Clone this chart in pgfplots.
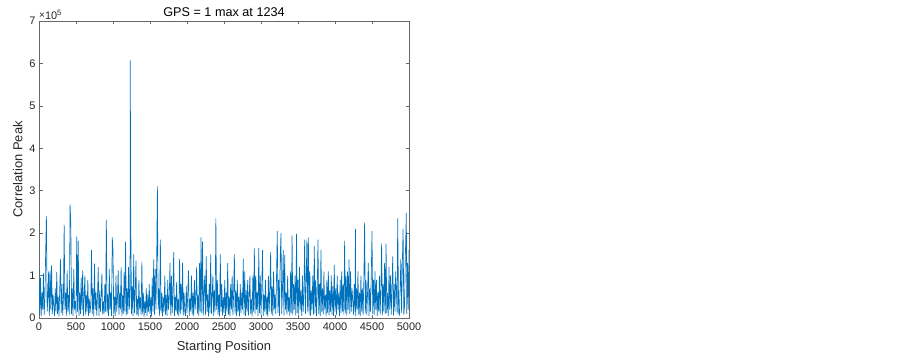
\documentclass[border=0pt]{standalone}
\usepackage{pgfplots}
\pgfplotsset{compat=1.18}
\usepackage{fontspec}
\setmainfont{Liberation Sans}
\definecolor{mblue}{RGB}{0,114,189}
\definecolor{axgray}{RGB}{38,38,38}
\begin{document}
\begin{tikzpicture}[x=1bp,y=1bp]
\useasboundingbox (0,0) rectangle (903,358);
\begin{axis}[
  at={(39bp,40bp)}, anchor=south west,
  scale only axis, width=370bp, height=297bp,
  xmin=0, xmax=5000, ymin=0, ymax=7,
  xtick={0,500,...,5000}, ytick={0,1,...,7},
  tick align=inside, tick pos=both,
  major tick length=3.5bp,
  axis line style={axgray!70, line width=0.5pt},
  every tick/.style={axgray!70, line width=0.5pt},
  tick label style={font=\fontsize{11}{13}\selectfont, text=axgray},
  /pgf/number format/assume math mode=true,
  /pgf/number format/1000 sep={},
  xticklabel style={yshift=-1bp},
  title={GPS = 1 max at 1234},
  title style={font=\fontsize{12.7}{15}\selectfont, yshift=-5bp},
  xlabel={Starting Position},
  ylabel={Correlation Peak},
  label style={font=\fontsize{13}{15}\selectfont, text=axgray},
  xlabel style={yshift=-4bp},
  ylabel style={yshift=0bp},
  clip mode=individual,
]
\addplot[mblue, line width=0.65pt] coordinates {
(0,1.15)(10,0.1)(20,0.95)(30,0.05)(40,0.6)(50,0.2)(60,1.05)(70,0.08)(80,0.5)(90,1.55)
(100,2.4)(110,0.15)(120,0.45)(130,1.1)(140,0.05)(150,1.12)(160,0.2)(170,1.24)(180,0.1)(190,0.55)
(200,0.3)(210,0.05)(220,0.7)(230,0.15)(240,1.08)(250,0.1)(260,0.5)(270,0.04)(280,0.65)(290,1.38)
(300,0.12)(310,0.8)(320,0.06)(330,0.45)(340,2.2)(350,0.2)(360,0.6)(370,0.05)(380,1.12)(390,0.15)
(400,0.55)(410,0.08)(420,2.68)(430,2.2)(440,0.1)(450,0.7)(460,0.05)(470,1.15)(480,0.2)(490,0.4)
(500,0.1)(510,1.92)(520,0.15)(530,1.82)(540,0.05)(550,0.6)(560,0.1)(570,0.95)(580,0.2)(590,1.12)
(600,0.05)(610,0.5)(620,1.0)(630,0.08)(640,0.55)(650,0.15)(660,0.9)(670,0.05)(680,0.45)(690,0.12)
(700,0.35)(710,1.6)(720,0.1)(730,0.7)(740,0.04)(750,1.28)(760,0.2)(770,0.6)(780,0.06)(790,0.5)
(800,1.2)(810,0.05)(820,0.65)(830,0.15)(840,0.5)(850,1.05)(860,0.08)(870,0.4)(880,0.1)(890,0.8)
(900,0.15)(910,2.32)(920,0.12)(930,0.55)(940,0.05)(950,1.15)(960,0.2)(970,0.6)(980,0.05)(990,1.9)
(1000,1.6)(1010,0.1)(1020,0.5)(1030,0.05)(1040,1.0)(1050,0.15)(1060,0.45)(1070,1.12)(1080,0.08)(1090,0.6)
(1100,0.2)(1110,1.2)(1120,0.05)(1130,0.55)(1140,0.1)(1150,1.08)(1160,0.15)(1170,1.8)(1180,0.06)(1190,0.7)
(1200,0.1)(1210,1.2)(1220,0.2)(1230,0.5)(1234,6.07)(1238,2.8)(1250,0.1)(1260,0.75)(1270,0.05)(1280,1.5)
(1290,0.12)(1300,0.55)(1310,1.35)(1320,0.08)(1330,0.45)(1340,0.04)(1350,0.9)(1360,0.2)(1370,0.5)(1380,0.06)
(1390,1.32)(1400,0.1)(1410,0.6)(1420,0.03)(1430,0.4)(1440,0.12)(1450,0.7)(1460,0.05)(1470,0.55)(1480,0.15)
(1490,0.8)(1500,0.1)(1510,0.5)(1520,0.04)(1530,0.95)(1540,0.15)(1550,1.38)(1560,0.08)(1570,1.15)(1580,0.2)
(1590,1.3)(1600,3.1)(1610,0.2)(1620,0.7)(1630,0.05)(1640,1.85)(1650,0.12)(1660,0.6)(1670,0.04)(1680,0.5)
(1690,0.15)(1700,1.0)(1710,0.08)(1720,0.55)(1730,0.05)(1740,0.9)(1750,0.2)(1760,0.45)(1770,1.3)(1780,0.06)
(1790,1.0)(1800,0.12)(1810,0.6)(1820,1.55)(1830,0.05)(1840,0.5)(1850,0.15)(1860,0.85)(1870,0.08)(1880,0.45)
(1890,0.04)(1900,1.4)(1910,0.1)(1920,0.8)(1930,0.2)(1940,1.3)(1950,0.06)(1960,0.6)(1970,0.15)(1980,0.05)
(1990,0.75)(2000,0.12)(2010,0.55)(2020,1.12)(2030,0.05)(2040,0.45)(2050,0.15)(2060,1.0)(2070,0.08)(2080,0.6)
(2090,0.04)(2100,0.9)(2110,0.2)(2120,0.5)(2130,1.2)(2140,0.1)(2150,0.55)(2160,0.05)(2170,1.3)(2180,0.15)
(2190,1.9)(2200,0.12)(2210,1.8)(2220,0.06)(2230,0.6)(2240,1.0)(2250,0.08)(2260,1.45)(2270,0.15)(2280,0.55)
(2290,0.04)(2300,0.8)(2310,0.12)(2320,1.5)(2330,0.1)(2340,0.5)(2350,1.0)(2360,0.05)(2370,0.65)(2380,0.15)
(2390,2.35)(2400,0.2)(2410,0.9)(2420,0.08)(2430,0.55)(2440,0.04)(2450,1.5)(2460,0.15)(2470,0.8)(2480,0.06)
(2490,0.5)(2500,0.12)(2510,0.9)(2520,0.05)(2530,0.6)(2540,0.15)(2550,1.3)(2560,0.08)(2570,0.5)(2580,0.04)
(2590,0.8)(2600,0.2)(2610,1.0)(2620,0.06)(2630,0.55)(2640,1.5)(2650,0.1)(2660,0.65)(2670,0.05)(2680,0.9)
(2690,0.15)(2700,0.5)(2710,0.04)(2720,0.8)(2730,0.12)(2740,0.6)(2750,0.2)(2760,1.4)(2770,0.08)(2780,1.1)
(2790,0.05)(2800,0.65)(2810,0.15)(2820,0.9)(2830,0.06)(2840,0.5)(2850,1.0)(2860,0.1)(2870,0.45)(2880,0.04)
(2890,1.0)(2900,0.15)(2910,1.65)(2920,0.1)(2930,1.0)(2940,0.2)(2950,0.6)(2960,0.05)(2970,1.65)(2980,0.12)
(2990,1.0)(3000,0.08)(3010,0.7)(3020,1.6)(3030,0.05)(3040,0.55)(3050,0.15)(3060,0.9)(3070,0.08)(3080,0.5)
(3090,0.04)(3100,1.0)(3110,0.15)(3120,0.65)(3130,1.55)(3140,0.1)(3150,0.75)(3160,0.05)(3170,1.1)(3180,0.2)
(3190,0.55)(3200,0.1)(3210,1.0)(3220,2.05)(3230,0.12)(3240,0.9)(3250,0.05)(3260,1.45)(3270,2.0)(3280,0.1)
(3290,0.65)(3300,1.6)(3310,0.06)(3320,1.48)(3330,0.2)(3340,0.6)(3350,0.08)(3360,1.0)(3370,0.15)(3380,0.5)
(3390,0.04)(3400,1.1)(3410,0.12)(3420,1.95)(3430,0.08)(3440,0.8)(3450,0.2)(3460,1.0)(3470,0.06)(3480,1.98)
(3490,0.12)(3500,0.9)(3510,0.08)(3520,1.2)(3530,0.2)(3540,0.65)(3550,0.05)(3560,1.0)(3570,0.15)(3580,0.6)
(3590,1.85)(3600,0.1)(3610,0.8)(3620,1.85)(3630,0.15)(3640,1.9)(3650,0.08)(3660,1.1)(3670,0.05)(3680,0.65)
(3690,0.2)(3700,1.0)(3710,0.08)(3720,1.7)(3730,0.12)(3740,0.9)(3750,0.05)(3760,0.6)(3770,1.85)(3780,0.1)
(3790,0.8)(3800,0.05)(3810,1.6)(3820,0.15)(3830,0.7)(3840,0.08)(3850,1.1)(3860,0.2)(3870,0.55)(3880,0.04)
(3890,0.9)(3900,0.12)(3910,1.1)(3920,0.06)(3930,0.65)(3940,0.15)(3950,1.0)(3960,0.08)(3970,0.75)(3980,0.05)
(3990,1.25)(4000,0.15)(4010,0.7)(4020,0.08)(4030,1.0)(4040,0.2)(4050,0.6)(4060,0.05)(4070,0.9)(4080,0.12)
(4090,1.1)(4100,0.15)(4110,0.8)(4120,0.08)(4130,1.82)(4140,0.12)(4150,1.0)(4160,0.06)(4170,1.1)(4180,0.2)
(4190,1.38)(4200,0.1)(4210,1.1)(4220,0.15)(4230,0.7)(4240,0.4)(4250,0.08)(4260,0.8)(4270,0.15)(4276,2.1)
(4280,0.05)(4290,0.7)(4300,0.2)(4310,1.1)(4320,0.08)(4330,0.6)(4340,0.04)(4350,1.0)(4360,0.15)(4370,0.7)
(4380,0.06)(4390,0.9)(4400,2.25)(4410,0.12)(4420,0.9)(4430,0.08)(4440,0.6)(4450,1.3)(4460,0.05)(4470,0.7)
(4480,0.15)(4490,1.0)(4500,2.05)(4510,0.1)(4520,0.9)(4530,0.08)(4540,1.1)(4550,0.2)(4560,0.9)(4570,0.05)
(4580,0.6)(4590,0.15)(4600,1.0)(4610,0.08)(4620,0.7)(4630,1.75)(4640,0.06)(4650,0.8)(4660,0.15)(4670,1.3)
(4680,0.1)(4690,1.75)(4700,0.12)(4710,0.6)(4720,0.05)(4730,1.2)(4740,0.2)(4750,1.0)(4760,0.08)(4770,0.7)
(4780,1.45)(4790,0.06)(4800,0.8)(4810,0.15)(4820,1.1)(4840,0.1)(4847,2.35)(4860,0.15)(4870,0.05)(4880,0.7)
(4890,1.4)(4900,0.12)(4910,1.3)(4920,2.1)(4930,0.08)(4940,0.3)(4950,1.4)(4964,2.48)(4970,0.1)(4980,1.3)
(4990,0.2)(5000,1.6)
};
\node[anchor=south west, font=\fontsize{11}{13}\selectfont, text=axgray, inner sep=0pt, xshift=0bp, yshift=1.5bp]
  at (rel axis cs:0,1) {\raisebox{0.5pt}{\fontsize{10}{11}\selectfont\char"00D7}10\textsuperscript{5}};
\end{axis}
\end{tikzpicture}
\end{document}
